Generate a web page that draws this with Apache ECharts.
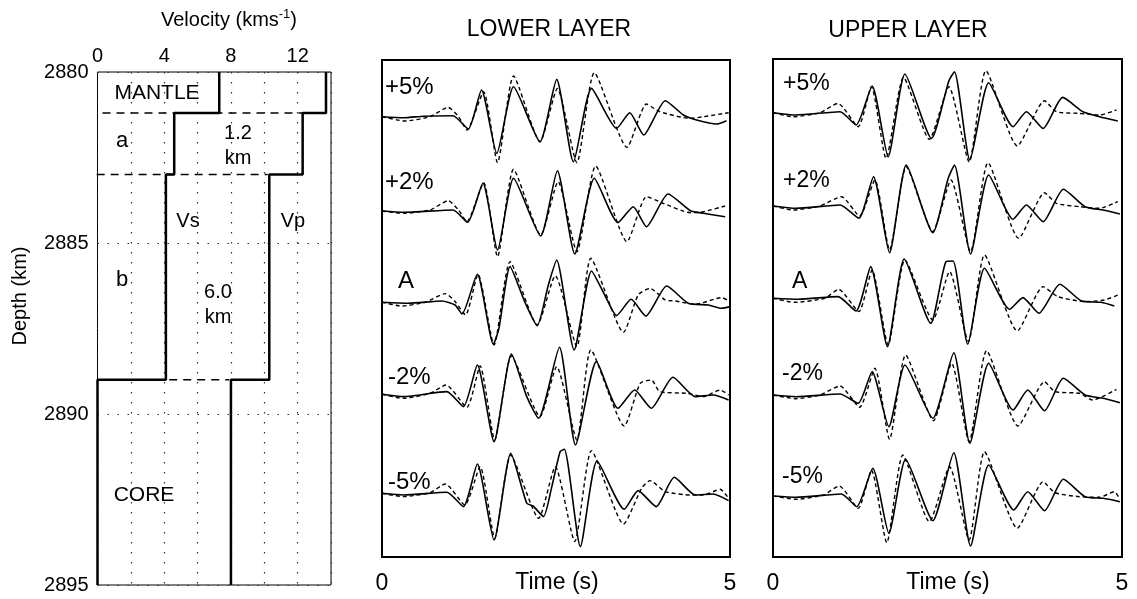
<!DOCTYPE html>
<html>
<head>
<meta charset="utf-8">
<script src="https://cdn.jsdelivr.net/npm/echarts@6/dist/echarts.min.js"></script>
<style>
  html, body { margin: 0; padding: 0; background: #fff; }
  #chart { width: 1137px; height: 599px; }
</style>
</head>
<body>
<div id="chart"></div>
<script>
// velocity model (left panel)
const layerTops = [2880, 2881.2, 2883, 2889, 2895]
const vsLayers = [7.3, 4.6, 4.1, 0]
const vpLayers = [13.7, 12.3, 10.3, 8.0]
// dashed interfaces: [depth, from velocity, to velocity]
const interfaces = [[2881.2, 0.3, 13.7], [2883, -0.05, 10.2], [2889, 4.3, 7.9]]

// waveforms: [time s, amplitude]
const traceLabels = ['+5%', '+2%', 'A', '-2%', '-5%']

const lowerP5Solid = [[0,0],[0.31,-0.1],[0.6,0.05],[1.02,0.1],[1.24,-1.23],[1.43,2.67],[1.65,-3.67],[1.89,3.0],[2.27,-2.5],[2.51,3.73],[2.75,-4.5],[3.01,2.83],[3.37,-1.17],[3.56,0.4],[3.76,-1.83],[4.07,1.6],[4.33,0.17],[4.52,-0.33],[4.81,-0.73],[4.95,-0.4]]
const lowerP5Dashed = [[0,0],[0.33,-0.43],[0.69,0],[0.95,0.93],[1.1,0],[1.22,-1.33],[1.46,2.5],[1.66,-4.6],[1.89,4.07],[2.27,-2.5],[2.52,2.83],[2.8,-4.6],[3.05,4.4],[3.52,-3.07],[3.8,1.27],[3.99,0.5],[4.43,-0.17],[4.62,0],[4.98,0.4]]
const lowerP2Solid = [[0,0],[0.31,-0.13],[1.02,0.1],[1.23,-1.13],[1.45,2.77],[1.66,-3.9],[1.89,3.27],[2.28,-2.5],[2.52,4.03],[2.77,-4.3],[3.05,3.27],[3.39,-1.17],[3.61,0.43],[3.8,-1.57],[4.11,1.7],[4.43,0.03],[4.62,-0.23],[4.93,-0.57]]
const lowerP2Dashed = [[0,0],[0.31,-0.23],[0.69,0.1],[0.95,1.03],[1.1,0.1],[1.22,-1.07],[1.46,2.83],[1.66,-4.57],[1.89,4.17],[2.28,-2.4],[2.53,2.93],[2.8,-4.07],[3.07,4.5],[3.52,-3.07],[3.8,1.43],[4.04,0.77],[4.43,-0.17],[4.62,-0.07],[4.93,0.5]]
const lowerASolid = [[0,0],[0.38,-0.1],[0.86,0.13],[1.05,-0.27],[1.15,-1.17],[1.37,2.8],[1.6,-4.2],[1.68,-2.6],[1.84,3.57],[2.05,0.07],[2.23,-2.33],[2.39,1.73],[2.51,4.23],[2.76,-4.77],[3.01,3.13],[3.2,0.73],[3.37,-1.33],[3.58,0.3],[3.79,-1.37],[4.09,1.63],[4.4,-0.1],[4.69,-0.27],[4.88,-0.6],[5.0,-0.43]]
const lowerADashed = [[0,0],[0.28,-0.37],[0.62,0],[0.91,0.87],[1.05,0.07],[1.2,-1.27],[1.38,2.8],[1.61,-4.27],[1.84,4.07],[2.23,-2.27],[2.49,2.67],[2.8,-4.43],[3.0,4.4],[3.47,-3.0],[3.68,0.73],[3.85,1.4],[4.07,0.23],[4.21,0.13],[4.5,-0.2],[4.88,0.47],[5.0,0.07]]
const lowerM2Solid = [[0,0],[0.31,-0.23],[0.93,0.27],[1.17,-1.23],[1.37,2.93],[1.61,-4.73],[1.86,4.03],[2.08,-0.23],[2.25,-2.4],[2.55,4.7],[2.78,-5.07],[3.08,3.27],[3.39,-1.4],[3.63,0.43],[3.87,-1.4],[4.18,1.7],[4.5,-0.23],[4.76,-0.07],[4.98,-0.57]]
const lowerM2Dashed = [[0,0],[0.31,-0.4],[0.69,0.1],[0.92,0.93],[1.22,-1.3],[1.41,2.83],[1.62,-4.57],[1.86,3.83],[2.27,-2.23],[2.51,2.77],[2.8,-4.57],[3.0,4.43],[3.48,-3.17],[3.71,1.1],[3.87,1.43],[3.99,0.27],[4.38,0.1],[4.62,-0.23],[4.86,0.43],[4.98,-0.07]]
const lowerM5Solid = [[0,0],[0.31,-0.17],[0.93,0.1],[1.17,-1.33],[1.37,2.93],[1.61,-4.67],[1.85,4.0],[2.08,-1.0],[2.17,-1.27],[2.32,-2.33],[2.44,0.67],[2.56,4.17],[2.62,4.4],[2.85,-5.33],[3.09,3.23],[3.48,-1.6],[3.68,0.27],[3.94,-1.33],[4.2,1.6],[4.5,-0.17],[4.76,-0.07],[4.98,-0.73]]
const lowerM5Dashed = [[0,0],[0.31,-0.33],[0.69,0.07],[0.91,0.93],[1.19,-1.17],[1.41,2.67],[1.62,-4.5],[1.85,3.83],[2.25,-2.5],[2.49,2.67],[2.77,-4.83],[3.01,4.27],[3.47,-3.07],[3.73,0.5],[3.85,1.27],[4.07,0.17],[4.43,-0.17],[4.62,-0.17],[4.86,0.4],[4.98,-0.5]]

const upperP5Solid = [[0,0],[0.33,-0.23],[0.96,0.1],[1.19,-1.23],[1.42,2.67],[1.65,-4.4],[1.89,3.87],[2.27,-2.57],[2.52,3.2],[2.6,4.1],[2.82,-4.73],[3.09,3.0],[3.44,-1.4],[3.63,0.1],[3.87,-1.57],[4.15,1.53],[4.44,0.1],[4.68,-0.4],[4.94,-0.83]]
const upperP5Dashed = [[0,0],[0.29,-0.4],[0.67,0],[0.93,0.93],[1.22,-1.4],[1.41,2.6],[1.62,-4.57],[1.87,3.53],[2.24,-2.67],[2.52,2.6],[2.81,-4.9],[3.05,4.2],[3.5,-3.33],[3.89,1.2],[4.06,0.1],[4.39,-0.07],[4.68,-0.23],[4.92,0.27]]
const upperP2Solid = [[0,0],[0.33,-0.23],[0.96,0.1],[1.23,-1.23],[1.44,2.93],[1.67,-4.67],[1.91,4.1],[2.29,-2.67],[2.51,2.77],[2.6,4.1],[2.83,-4.8],[3.09,3.1],[3.44,-1.33],[3.63,0.1],[3.87,-1.57],[4.16,1.67],[4.47,-0.07],[4.73,-0.4],[4.97,-0.8]]
const upperP2Dashed = [[0,0],[0.29,-0.4],[0.67,0],[0.98,0.93],[1.24,-1.0],[1.46,2.6],[1.67,-4.4],[1.91,3.93],[2.29,-2.57],[2.55,2.6],[2.83,-4.57],[3.08,4.33],[3.52,-3.23],[3.89,1.33],[4.06,0.27],[4.39,-0.07],[4.68,-0.23],[4.94,0.43]]
const upperASolid = [[0,0],[0.36,-0.1],[0.93,0.17],[1.19,-1.27],[1.4,3.17],[1.64,-4.83],[1.88,3.93],[2.26,-2.5],[2.48,3.67],[2.58,3.73],[2.79,-4.6],[3.03,3.0],[3.39,-1.1],[3.58,0.07],[3.81,-1.5],[4.11,1.4],[4.42,-0.27],[4.7,-0.4],[4.89,-0.77]]
const upperADashed = [[0,0],[0.31,-0.4],[0.74,0],[0.94,0.9],[1.23,-1.33],[1.42,2.83],[1.65,-4.67],[1.89,3.83],[2.29,-2.17],[2.53,2.67],[2.8,-4.33],[3.03,4.33],[3.5,-3.27],[3.87,1.17],[4.08,0.17],[4.47,-0.33],[4.75,-0.17],[4.94,0.33]]
const upperM2Solid = [[0,0],[0.33,-0.17],[0.96,0.1],[1.22,-0.83],[1.42,2.33],[1.66,-3.17],[1.89,3.0],[2.29,-2.33],[2.59,4.23],[2.82,-4.83],[3.09,3.17],[3.44,-1.5],[3.65,0.5],[3.89,-1.57],[4.16,1.67],[4.47,0],[4.73,-0.33],[4.97,-0.77]]
const upperM2Dashed = [[0,0],[0.33,-0.37],[0.67,0],[0.96,0.9],[1.24,-1.23],[1.46,2.67],[1.67,-4.43],[1.9,4.0],[2.3,-2.57],[2.56,3.17],[2.81,-4.67],[3.06,4.43],[3.51,-3.1],[3.89,1.33],[4.04,0.33],[4.39,0.17],[4.58,-0.5],[4.92,0.57]]
const upperM5Solid = [[0,0],[0.33,-0.13],[0.98,0.2],[1.2,-1.07],[1.43,2.77],[1.66,-3.73],[1.9,3.67],[2.29,-2.47],[2.59,4.33],[2.83,-5.0],[3.09,3.1],[3.45,-1.4],[3.65,0.43],[3.89,-1.47],[4.16,1.67],[4.47,-0.07],[4.73,-0.23],[4.97,-0.57]]
const upperM5Dashed = [[0,0],[0.33,-0.33],[0.72,0.1],[0.95,1.0],[1.22,-1.23],[1.41,2.6],[1.63,-4.67],[1.86,4.1],[2.24,-2.57],[2.53,2.93],[2.81,-4.4],[3.03,4.43],[3.5,-3.23],[3.87,1.43],[4.04,0.33],[4.39,-0.07],[4.68,-0.13],[4.89,0.43],[4.97,-0.33]]

const lowerTraces = [
  [lowerP5Solid, lowerP5Dashed], [lowerP2Solid, lowerP2Dashed], [lowerASolid, lowerADashed],
  [lowerM2Solid, lowerM2Dashed], [lowerM5Solid, lowerM5Dashed]
]
const upperTraces = [
  [upperP5Solid, upperP5Dashed], [upperP2Solid, upperP2Dashed], [upperASolid, upperADashed],
  [upperM2Solid, upperM2Dashed], [upperM5Solid, upperM5Dashed]
]

const FONT = 'Liberation Sans, Arial, Helvetica, sans-serif'

function stepPath(vals) {
  const pts = []
  vals.forEach((v, i) => {
    pts.push([v, layerTops[i]])
    pts.push([v, layerTops[i + 1]])
  })
  return pts
}

const chart = echarts.init(document.getElementById('chart'))

const grids = []
const xAxes = []
const yAxes = []
const series = []

// left panel: velocity profile
grids.push({ left: 97.5, top: 72, width: 233.5, height: 513, show: true, borderColor: '#000', borderWidth: 1,
  outerBoundsMode: 'none', containLabel: false })
xAxes.push({
  gridIndex: 0, type: 'value', position: 'top', min: 0, max: 14, interval: 2,
  axisLine: { show: false }, axisTick: { show: false },
  axisLabel: { formatter: v => (v % 4 === 0 ? String(v) : ''), margin: 6, fontSize: 20, color: '#000', fontFamily: FONT },
  splitLine: { show: true, lineStyle: { type: [1.5, 8.5], color: '#333', width: 1.2 } }
})
yAxes.push({
  gridIndex: 0, type: 'value', inverse: true, min: 2880, max: 2895, interval: 5,
  axisLine: { show: false }, axisTick: { show: false },
  axisLabel: { formatter: v => String(v), margin: 9, fontSize: 20, color: '#000', fontFamily: FONT },
  splitLine: { show: true, lineStyle: { type: [1.5, 8.5], color: '#333', width: 1.2 } }
})
series.push({ type: 'line', xAxisIndex: 0, yAxisIndex: 0, data: stepPath(vsLayers), symbol: 'none', clip: false,
  lineStyle: { color: '#000', width: 2.5 }, z: 5 })
series.push({ type: 'line', xAxisIndex: 0, yAxisIndex: 0, data: stepPath(vpLayers), symbol: 'none', clip: false,
  lineStyle: { color: '#000', width: 2.5 }, z: 5 })
interfaces.forEach(f => {
  series.push({ type: 'line', xAxisIndex: 0, yAxisIndex: 0, data: [[f[1], f[0]], [f[2], f[0]]], symbol: 'none', clip: false,
    lineStyle: { color: '#000', width: 1.5, type: [8, 6] }, z: 4 })
})

// waveform panels
function addPanel(frame, baselines, traces) {
  const fi = grids.length
  grids.push({ left: frame.left, top: frame.top, width: frame.width, height: frame.height, show: true,
    borderColor: '#000', borderWidth: 2, outerBoundsMode: 'none', containLabel: false })
  xAxes.push({
    gridIndex: fi, type: 'value', min: 0, max: 5, interval: 5,
    axisLine: { show: false }, axisTick: { show: false }, splitLine: { show: false },
    axisLabel: { margin: 15, fontSize: 23, color: '#000', fontFamily: FONT }
  })
  yAxes.push({ gridIndex: fi, type: 'value', show: false, min: 0, max: 1 })
  traces.forEach((pair, k) => {
    const gi = grids.length
    grids.push({ left: frame.left, top: baselines[k] - 60, width: frame.width, height: 120,
      outerBoundsMode: 'none', containLabel: false })
    xAxes.push({ gridIndex: gi, type: 'value', show: false, min: 0, max: 5 })
    yAxes.push({ gridIndex: gi, type: 'value', show: false, min: -6, max: 6 })
    series.push({ type: 'line', xAxisIndex: gi, yAxisIndex: gi, data: pair[0], symbol: 'none', smooth: 0.2,
      lineStyle: { color: '#000', width: 1.6 } })
    series.push({ type: 'line', xAxisIndex: gi, yAxisIndex: gi, data: pair[1], symbol: 'none', smooth: 0.2,
      lineStyle: { color: '#000', width: 1.4, type: [4, 3] } })
  })
}

addPanel({ left: 382, top: 60, width: 348, height: 497 }, [116.7, 211, 302.3, 394.3, 493.3], lowerTraces)
addPanel({ left: 773, top: 59, width: 349, height: 498 }, [112.7, 206, 298.3, 395, 496], upperTraces)

function txt(text, x, y, size, align) {
  return { type: 'text', x: x, y: y, z: 20,
    style: { text: text, fill: '#000', fontSize: size, fontFamily: FONT, align: align || 'center', verticalAlign: 'middle' } }
}

const graphics = [
  {
    type: 'text', x: 229, y: 20, z: 20,
    style: {
      text: '{a|Velocity (kms}{b|-1}{a|)}', align: 'center', verticalAlign: 'middle', fill: '#000',
      rich: {
        a: { fontSize: 20, fontFamily: FONT, lineHeight: 24, fill: '#000' },
        b: { fontSize: 13, fontFamily: FONT, lineHeight: 13, verticalAlign: 'top', fill: '#000' }
      }
    }
  },
  { type: 'text', x: 20, y: 296, rotation: Math.PI / 2, z: 20,
    style: { text: 'Depth (km)', fill: '#000', fontSize: 20, fontFamily: FONT, align: 'center', verticalAlign: 'middle' } },
  txt('MANTLE', 157, 93, 21),
  txt('a', 122, 141, 22),
  txt('1.2', 238, 133, 20),
  txt('km', 238, 158, 20),
  txt('Vs', 188, 221, 20),
  txt('Vp', 293, 221, 20),
  txt('b', 122, 280, 22),
  txt('6.0', 218, 292, 20),
  txt('km', 218, 317, 20),
  txt('CORE', 144, 495, 21),
  txt('LOWER LAYER', 549, 30, 23),
  txt('UPPER LAYER', 908, 31, 23),
  txt('Time (s)', 557, 583, 23),
  txt('Time (s)', 948, 583, 23)
]
const lowerLabelPos = [[385, 87], [385, 182], [398, 281], [388, 377], [388, 482]]
const upperLabelPos = [[783, 84], [783, 181], [792, 282], [782, 374], [782, 477]]
traceLabels.forEach((t, i) => {
  graphics.push(txt(t, lowerLabelPos[i][0], lowerLabelPos[i][1], 24, 'left'))
  graphics.push(txt(t, upperLabelPos[i][0], upperLabelPos[i][1], 23, 'left'))
})

chart.setOption({
  animation: false,
  backgroundColor: '#fff',
  grid: grids,
  xAxis: xAxes,
  yAxis: yAxes,
  series: series,
  graphic: graphics
})
</script>
</body>
</html>
